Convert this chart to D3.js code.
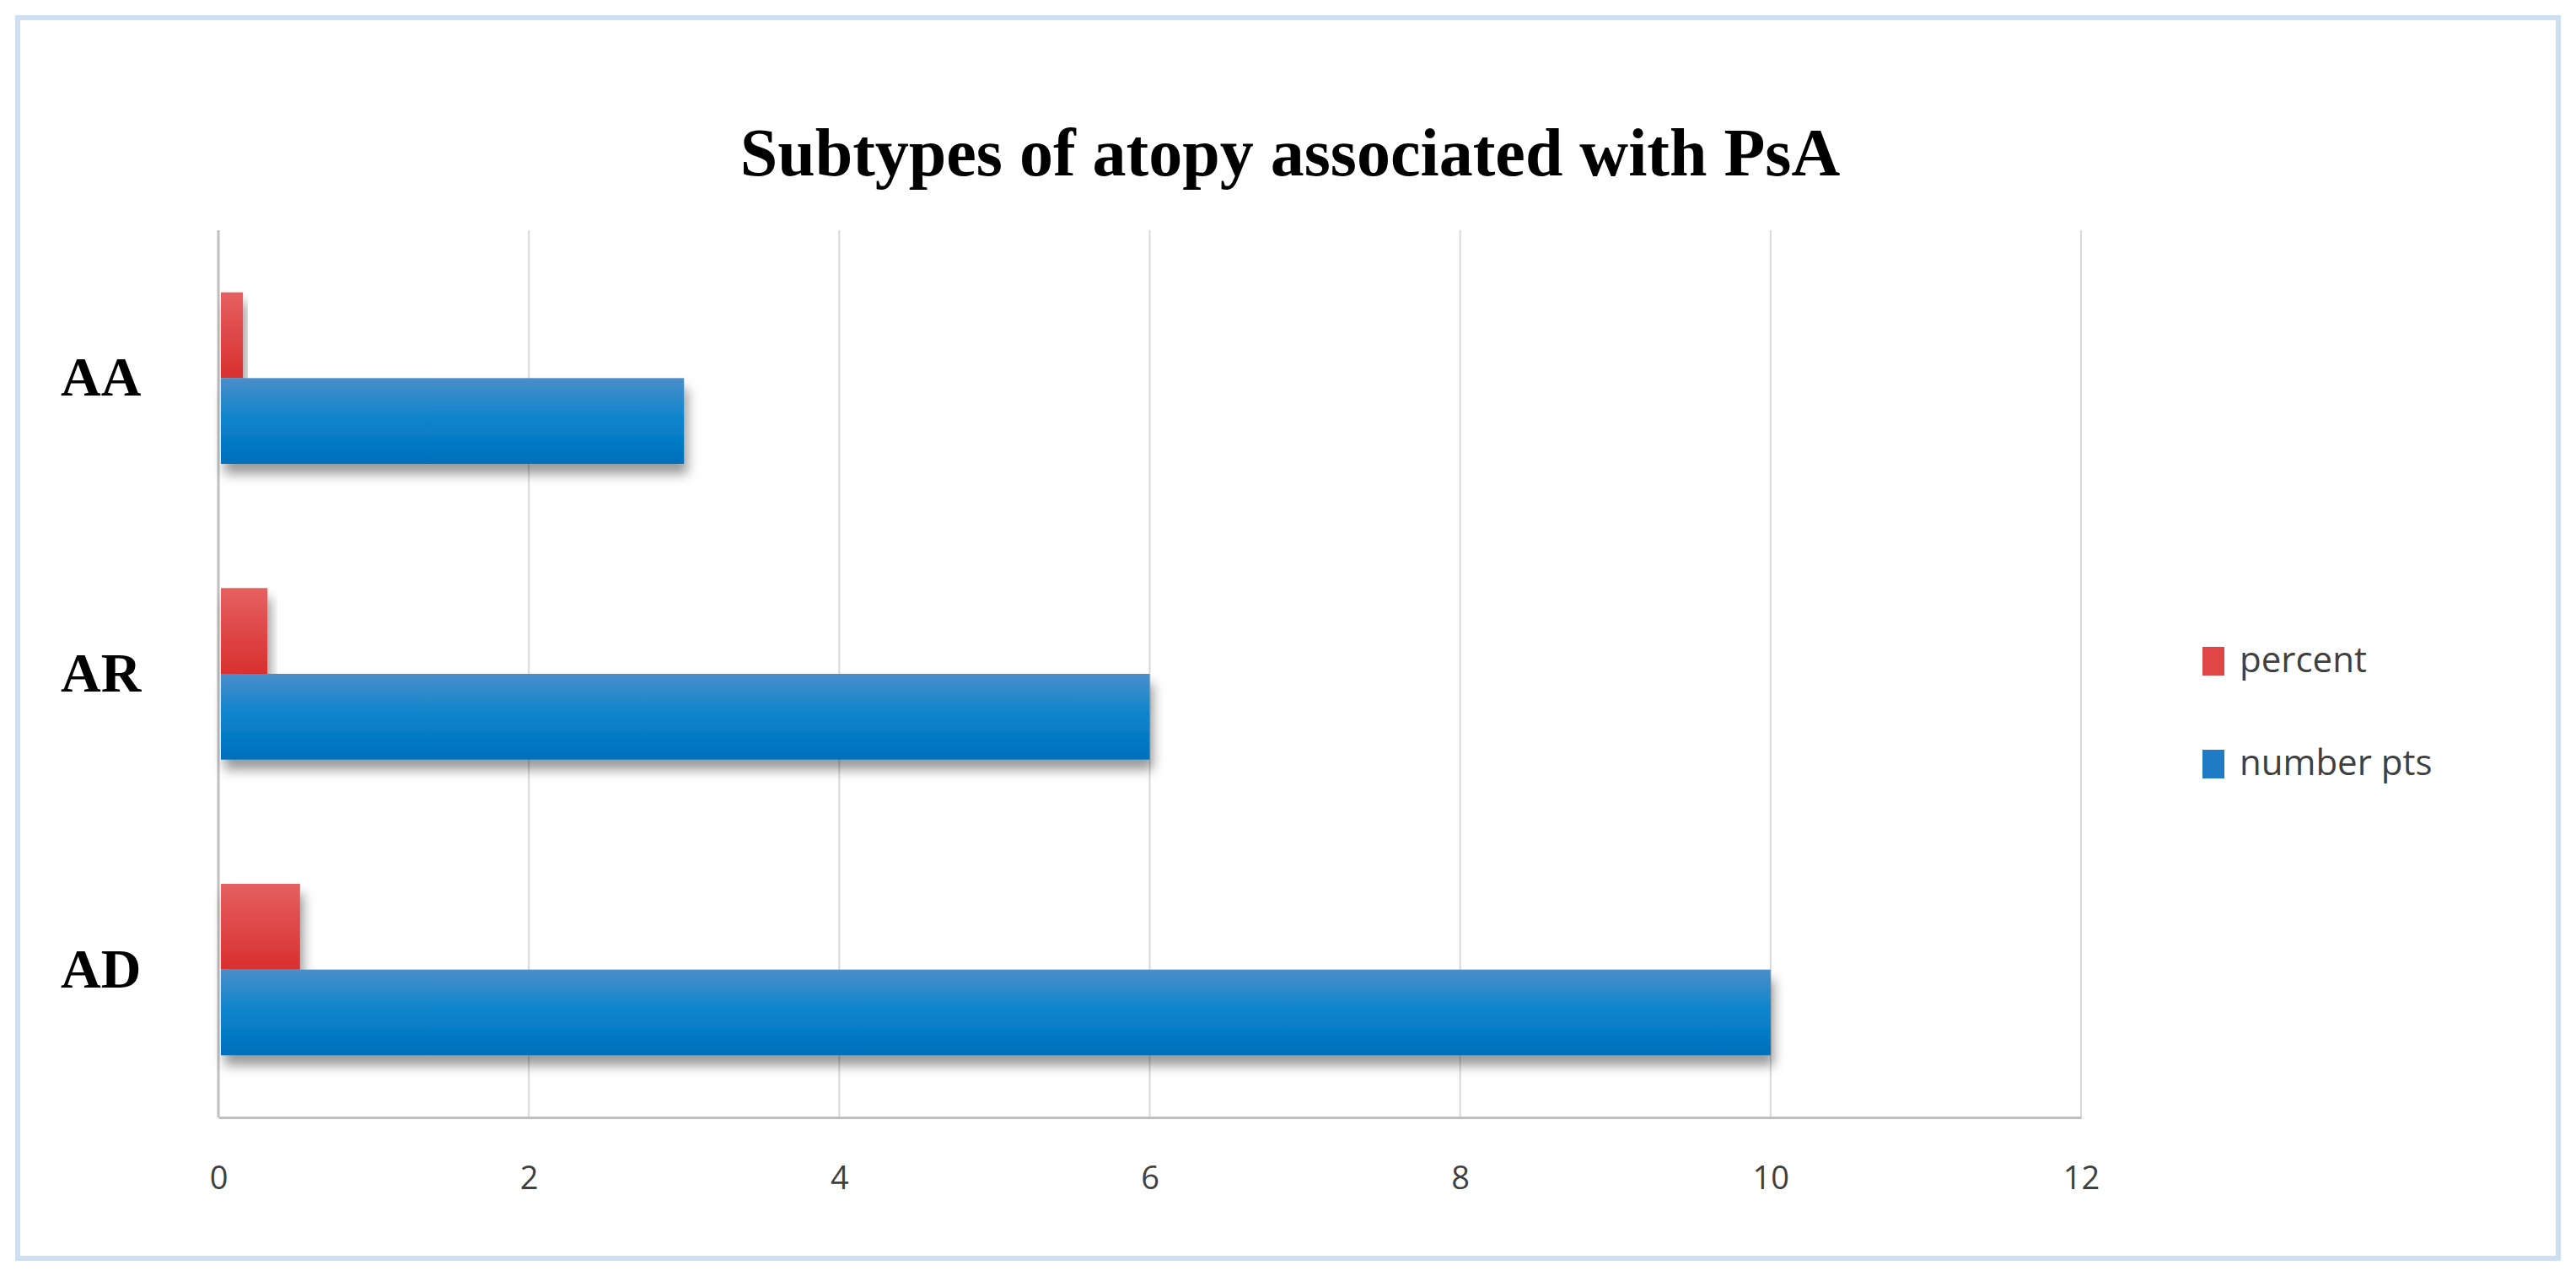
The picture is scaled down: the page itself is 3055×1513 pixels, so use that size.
<!DOCTYPE html>
<html><head><meta charset="utf-8">
<script src="https://cdn.jsdelivr.net/npm/d3@7"></script>
<style>body{margin:0;background:#fff}</style>
</head><body>
<script>
const categories = ["AA", "AR", "AD"];
const series = ["percent", "number pts"];
const percent = [0.158, 0.316, 0.526];
const numberPts = [3, 6, 10];
const xTicks = [0, 2, 4, 6, 8, 10, 12];

const W = 3055, H = 1513;
const svg = d3.select("body").append("svg").attr("width", W).attr("height", H);

const defs = svg.append("defs");
const gradB = defs.append("linearGradient").attr("id", "gb").attr("x1", 0).attr("y1", 0).attr("x2", 0).attr("y2", 1);
gradB.append("stop").attr("offset", "0%").attr("stop-color", "#4a8ec9");
gradB.append("stop").attr("offset", "50%").attr("stop-color", "#0a84cc");
gradB.append("stop").attr("offset", "100%").attr("stop-color", "#0070bb");
const gradR = defs.append("linearGradient").attr("id", "gr").attr("x1", 0).attr("y1", 0).attr("x2", 0).attr("y2", 1);
gradR.append("stop").attr("offset", "0%").attr("stop-color", "#e56060");
gradR.append("stop").attr("offset", "100%").attr("stop-color", "#d92f2f");
const sh = defs.append("filter").attr("id", "sh").attr("x", "-10%").attr("y", "-30%").attr("width", "130%").attr("height", "180%");
sh.append("feDropShadow").attr("dx", 4).attr("dy", 12).attr("stdDeviation", 7).attr("flood-color", "#000").attr("flood-opacity", 0.4);

svg.append("rect").attr("x", 21).attr("y", 21).attr("width", W - 42).attr("height", H - 42)
  .attr("fill", "none").attr("stroke", "#cddff0").attr("stroke-width", 6);

const pLeft = 259, pRight = 2468, pTop = 273, pBottom = 1325;
const x = d3.scaleLinear().domain([0, 12]).range([pLeft, pRight]);
const y = d3.scaleBand().domain(categories).range([pTop, pBottom]).paddingInner(0.42).paddingOuter(0.21);
const sub = d3.scaleBand().domain(series).range([0, y.bandwidth()]);

svg.append("g").selectAll("line").data(xTicks.slice(1)).join("line")
  .attr("x1", d => x(d)).attr("x2", d => x(d)).attr("y1", pTop).attr("y2", pBottom)
  .attr("stroke", "#d9d9d9").attr("stroke-width", 2);

const xAxis = svg.append("g").attr("transform", `translate(0,${pBottom})`)
  .call(d3.axisBottom(x).tickValues(xTicks).tickSize(0).tickPadding(58));
xAxis.select(".domain").attr("stroke", "#bfbfbf").attr("stroke-width", 3);
xAxis.selectAll("text").attr("font-family", "Open Sans, sans-serif").attr("font-size", 38).attr("fill", "#404040");

svg.append("line").attr("x1", pLeft).attr("x2", pLeft).attr("y1", pTop).attr("y2", pBottom)
  .attr("stroke", "#bfbfbf").attr("stroke-width", 3);

const yAxis = svg.append("g").attr("transform", `translate(${pLeft},0)`)
  .call(d3.axisLeft(y).tickSize(0).tickPadding(75));
yAxis.select(".domain").remove();
yAxis.selectAll("text").attr("font-family", "Liberation Serif, Times New Roman, serif")
  .attr("font-weight", "bold").attr("font-size", 66).attr("fill", "#000").attr("text-anchor", "start")
  .attr("dx", -112);

const rows = categories.map((c, i) => ({ c, percent: percent[i], "number pts": numberPts[i] }));
const g = svg.append("g");
rows.forEach(r => {
  series.forEach(s => {
    g.append("rect")
      .attr("x", x(0) + 3).attr("y", y(r.c) + sub(s))
      .attr("width", x(r[s]) - x(0) - 3).attr("height", sub.bandwidth())
      .attr("fill", s === "percent" ? "url(#gr)" : "url(#gb)")
      .attr("filter", "url(#sh)");
  });
});

svg.append("text").attr("x", 1530).attr("y", 208).attr("text-anchor", "middle")
  .attr("font-family", "Liberation Serif, Times New Roman, serif").attr("font-weight", "bold")
  .attr("font-size", 80).text("Subtypes of atopy associated with PsA");

const colors = ["#e04646", "#1e7bc4"];
const lg = svg.append("g").selectAll("g").data(series).join("g")
  .attr("transform", (d, i) => `translate(2612,${783 + i * 122})`);
lg.append("rect").attr("x", 0).attr("y", -16).attr("width", 26).attr("height", 34).attr("fill", (d, i) => colors[i]);
lg.append("text").attr("x", 44).attr("y", 14).attr("font-family", "Open Sans, sans-serif")
  .attr("font-size", 42).attr("fill", "#404040").text(d => d);
</script>
</body></html>
